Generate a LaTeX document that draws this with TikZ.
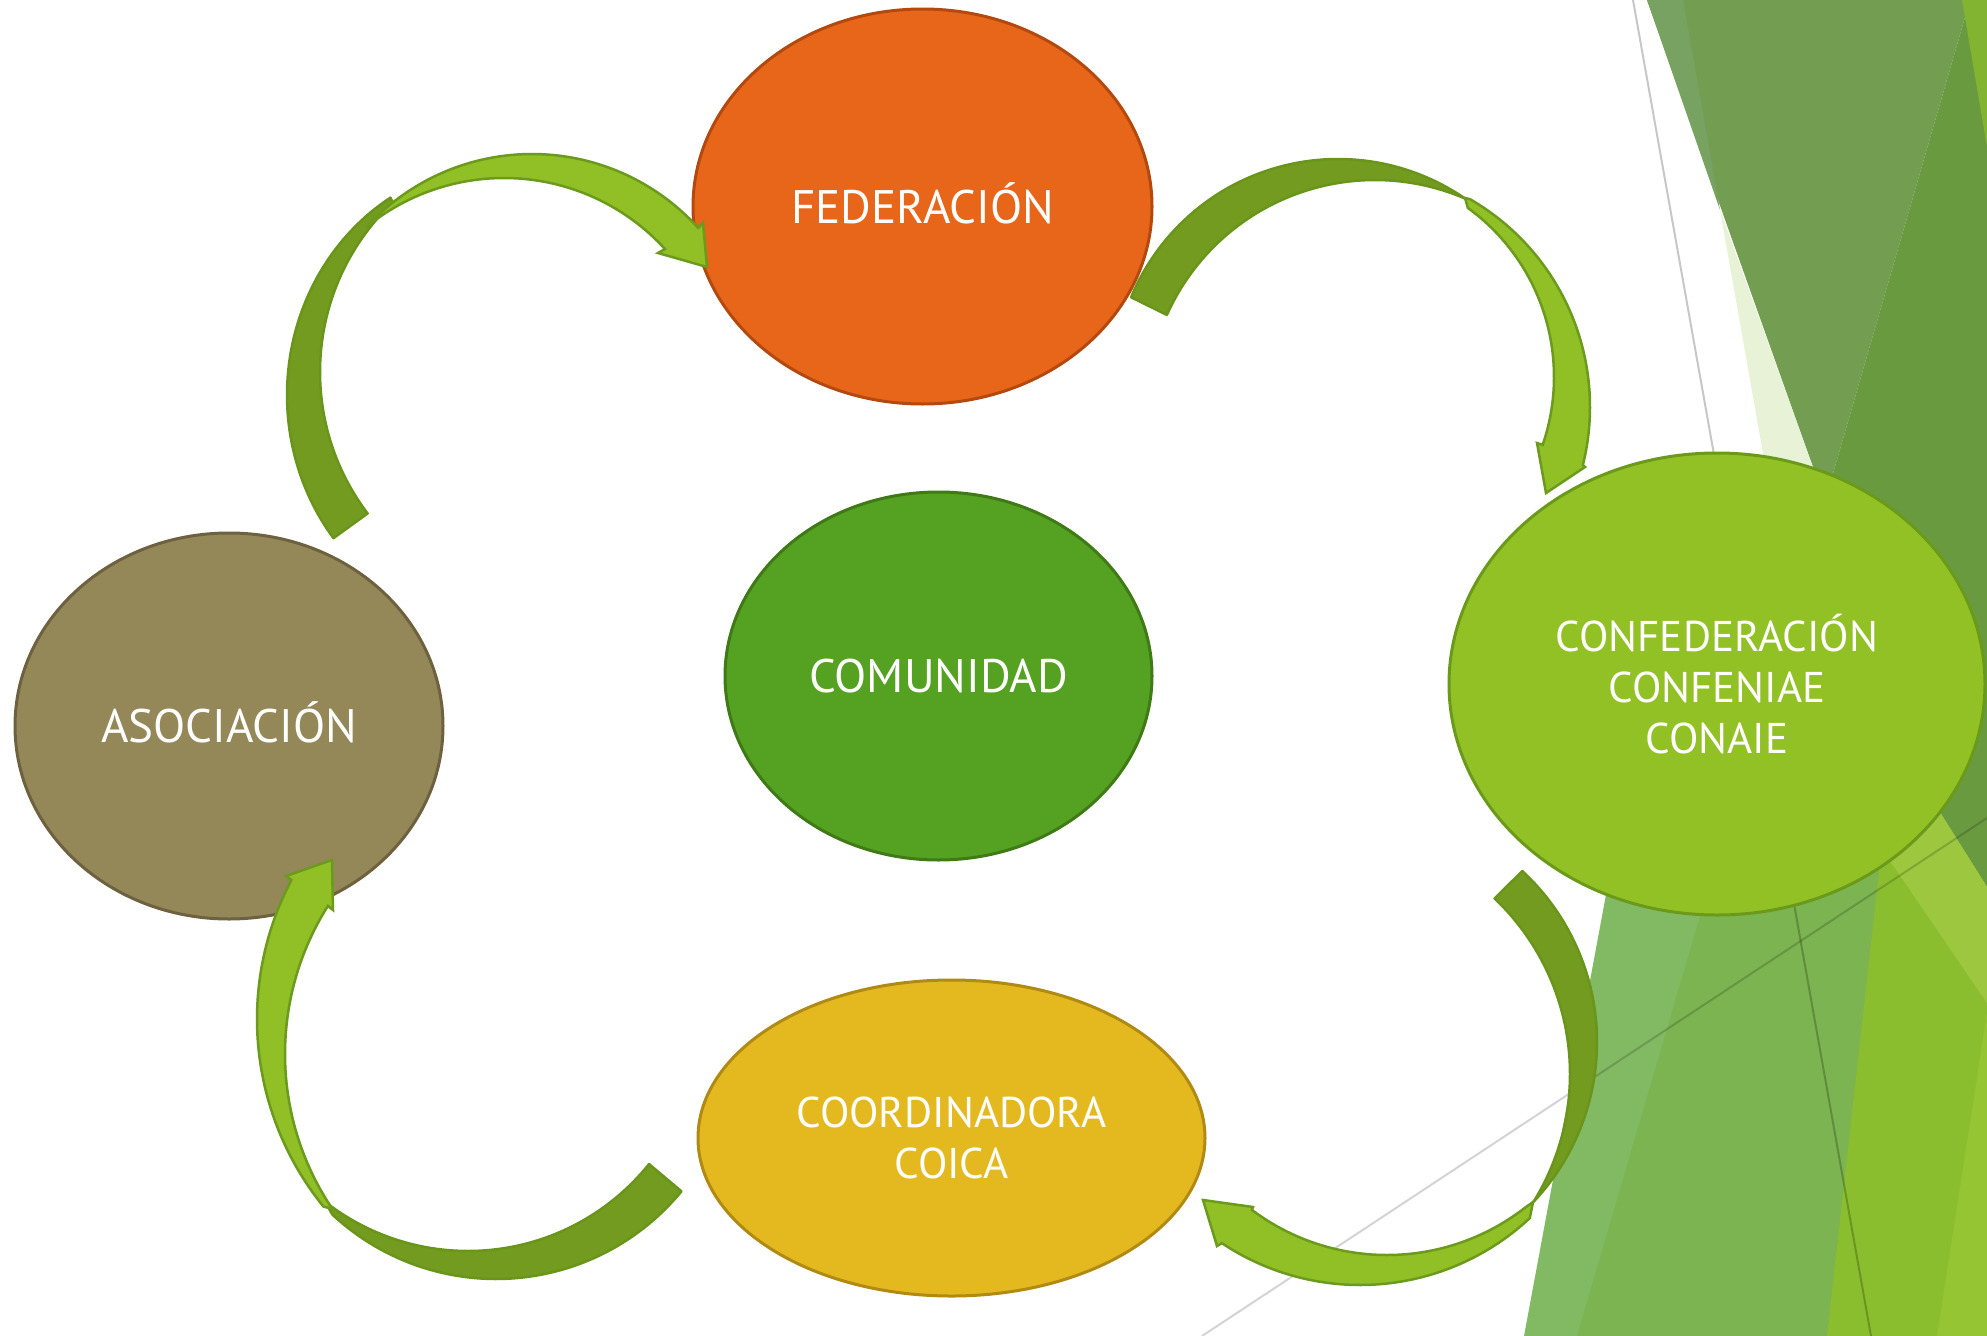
\documentclass[tikz,border=0pt]{standalone}
\usepackage{fontspec}
\setmainfont{PT Sans}
\usetikzlibrary{shapes.geometric}
\definecolor{fedfill}{HTML}{E8661A}
\definecolor{fedline}{HTML}{B4490F}
\definecolor{comfill}{HTML}{55A122}
\definecolor{comline}{HTML}{3F7A17}
\definecolor{asofill}{HTML}{948858}
\definecolor{asoline}{HTML}{6D6140}
\definecolor{conffill}{HTML}{92C126}
\definecolor{confline}{HTML}{6B9A1B}
\definecolor{coofill}{HTML}{E4B920}
\definecolor{cooline}{HTML}{B08A12}
\definecolor{arrlightc}{HTML}{90C026}
\definecolor{arrlightline}{HTML}{6B9A1C}
\definecolor{arrdarkc}{HTML}{739B20}
\definecolor{arrdarkline}{HTML}{68951A}
\definecolor{bgsage}{HTML}{739E52}
\definecolor{bgsagelt}{HTML}{77A262}
\definecolor{bgpale}{HTML}{E8F2D6}
\definecolor{bgdark}{HTML}{6A9A40}
\definecolor{bgbright}{HTML}{82B432}
\definecolor{bgmone}{HTML}{82BA63}
\definecolor{bgmtwo}{HTML}{7BB450}
\definecolor{bgmfour}{HTML}{8BBE2E}
\definecolor{bgmsix}{HTML}{9CC73E}
\definecolor{bgmfive}{HTML}{96C534}
\tikzset{
  bubble/.style={ellipse, line width=3pt, text=white, inner sep=0pt},
  onelabel/.style={font=\fontsize{47pt}{56pt}\selectfont, text height=33pt, text depth=0pt},
  multilabel/.style={font=\fontsize{43pt}{51pt}\selectfont, align=center},
  darkband/.style={fill=arrdarkc, draw=arrdarkline, line width=2.5pt, line join=round, samples=60},
  lightband/.style={fill=arrlightc, draw=arrlightline, line width=2.5pt, line join=miter, samples=60},
  bgline/.style={draw=black, draw opacity=0.22, line width=2pt},
}
\begin{document}
\begin{tikzpicture}[x=1pt,y=-1pt]
\useasboundingbox (0,0) rectangle (1987,1336);
\fill[white] (0,0) rectangle (1987,1336);
% background facets
\fill[bgsage] (1647,0) -- (1970,0) -- (1825,501) -- cycle;
\fill[bgsagelt] (1647,0) -- (1683,0) -- (1720,210) -- cycle;
\fill[bgpale] (1720,210) -- (1789,600) -- (1861,600) -- cycle;
\fill[bgdark] (1970,0) -- (1987,0) -- (1987,887) -- (1800,590) -- (1825,501) -- cycle;
\fill[bgbright] (1962,0) -- (1987,0) -- (1987,147) -- cycle;
\fill[bgmone] (1631,760) -- (1907,760) -- (1987,887) -- (1987,1336) -- (1524,1336) -- cycle;
\fill[bgmtwo] (1734,800) -- (1932,800) -- (1987,887) -- (1987,1336) -- (1577,1336) -- cycle;
\fill[bgmfour] (1887,800) -- (1932,800) -- (1987,887) -- (1987,1336) -- (1827,1336) -- cycle;
\fill[bgmsix] (1821,760) -- (1907,760) -- (1987,887) -- (1987,1003) -- cycle;
\fill[bgmfive] (1987,1013) -- (1987,1336) -- (1937,1336) -- cycle;
\draw[bgline] (1633,0) -- (1871,1336);
\draw[bgline, draw opacity=0.17] (1202,1336) -- (1987,818);
% ellipses
\node[bubble, onelabel, fill=fedfill, draw=fedline, minimum width=459pt, minimum height=395pt] (fed) at (922.5,206.5) {FEDERACIÓN};
\node[bubble, onelabel, fill=comfill, draw=comline, minimum width=427pt, minimum height=368pt] (com) at (938.5,676) {COMUNIDAD};
\node[bubble, onelabel, fill=asofill, draw=asoline, minimum width=428pt, minimum height=386pt] (aso) at (229,726) {ASOCIACIÓN};
\node[bubble, multilabel, fill=conffill, draw=confline, minimum width=536pt, minimum height=462pt] (conf) at (1717,684) {CONFEDERACIÓN\\CONFENIAE\\CONAIE};
\node[bubble, multilabel, fill=coofill, draw=cooline, minimum width=507pt, minimum height=316pt] (coo) at (951.5,1138) {COORDINADORA\\COICA};
% arrow A: asociacion -> federacion
\filldraw[darkband] plot[domain=141.9:238.3] ({505+218*cos(\x)},{395+232*sin(\x)})
  -- plot[domain=142.8:226.4] ({554+234*cos(369.2-\x)},{372+234*sin(369.2-\x)}) -- cycle;
\filldraw[lightband] plot[domain=222.6:317.9] ({532+224*cos(\x)},{378+224*sin(\x)})
  -- (703,223) -- (707,267) -- (658,253)
  -- plot[domain=231.1:317.6] ({504+218*cos(548.7-\x)},{396+218*sin(548.7-\x)}) -- cycle;
% arrow B: federacion -> confederacion
\filldraw[darkband] plot[domain=202.5:304.5] ({1338+224*cos(\x)},{383+224*sin(\x)})
  -- plot[domain=204.1:293.25] ({1375+228*cos(497.35-\x)},{408+228*sin(497.35-\x)}) -- cycle;
\filldraw[lightband] (1465,198) -- plot[domain=300:374] ({1350+240*cos(\x)},{407+240*sin(\x)})
  -- (1585,467) -- (1546,493) -- (1537,443)
  -- plot[domain=306:378.95] ({1345+209*cos(684.95-\x)},{377+209*sin(684.95-\x)}) -- cycle;
% arrow C: confederacion -> coordinadora
\filldraw[darkband] plot[domain=312.8:403.4] ({1364+233*cos(\x)},{1042+233*sin(\x)})
  -- plot[domain=313.5:392] ({1328+242*cos(705.5-\x)},{1074+242*sin(705.5-\x)}) -- cycle;
\filldraw[lightband] (1533,1202) -- plot[domain=47:123.7] ({1360+249*cos(\x)},{1036+249*sin(\x)})
  -- (1217,1246) -- (1203,1200) -- (1253,1207)
  -- plot[domain=52:126.9] ({1387+225*cos(178.9-\x)},{1030+225*sin(178.9-\x)}) -- cycle;
% arrow D: coordinadora -> asociacion
\filldraw[darkband] plot[domain=39.4:133] ({496+240*cos(\x)},{1039+240*sin(\x)})
  -- plot[domain=38.7:128] ({468+232*cos(166.7-\x)},{1019+232*sin(166.7-\x)}) -- cycle;
\filldraw[lightband] plot[domain=141:207.8] ({555+298*cos(\x)},{1019+298*sin(\x)})
  -- (286,876) -- (332,860) -- (333,910)
  -- plot[domain=146:212.3] ({562+277*cos(358.3-\x)},{1054+277*sin(358.3-\x)}) -- cycle;
\end{tikzpicture}
\end{document}
